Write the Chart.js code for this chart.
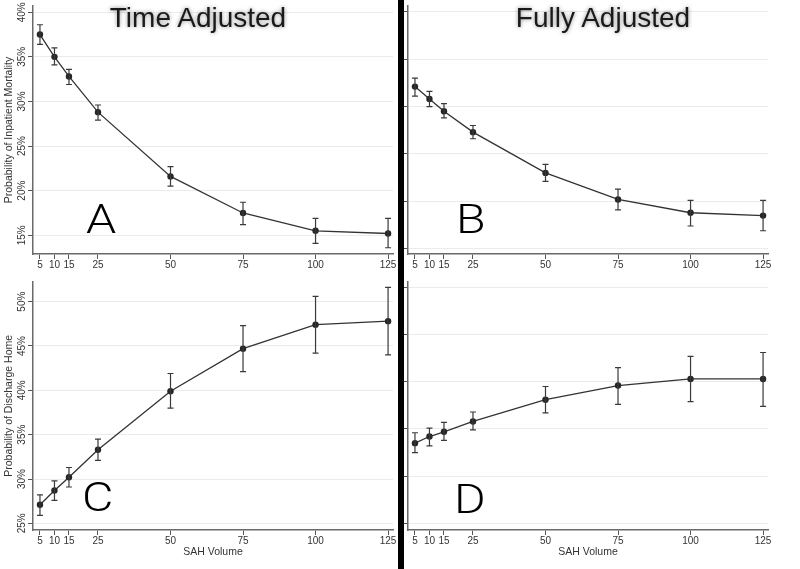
<!DOCTYPE html>
<html>
<head>
<meta charset="utf-8">
<script src="https://cdn.jsdelivr.net/npm/chart.js@4.4.0/dist/chart.umd.min.js"></script>
<style>
body { margin: 0; background: #fff; width: 800px; height: 569px; overflow: hidden; position: relative; font-family: "Liberation Sans", Arial, sans-serif; }
.panel { position: absolute; }
.title { position: absolute; font-size: 28px; line-height: 1; color: #1a1a1a; white-space: nowrap; transform: translateX(-50%); text-shadow: 0 0 4px rgba(0,0,0,.45); }
.letter { position: absolute; font-family: Roboto, sans-serif; font-weight: 300; font-size: 41px; line-height: 1; color: #000; transform: scaleX(1.18); transform-origin: left top; }
#divider { position: absolute; left: 398px; top: 0; width: 6px; height: 569px; background: #000; z-index: 5; }
</style>
</head>
<body>
<div class="panel" style="left:0;top:0;width:398px;height:276px"><canvas id="chartA"></canvas></div>
<div class="panel" style="left:404px;top:0;width:396px;height:276px"><canvas id="chartB"></canvas></div>
<div class="panel" style="left:0;top:276px;width:398px;height:293px"><canvas id="chartC"></canvas></div>
<div class="panel" style="left:404px;top:276px;width:396px;height:293px"><canvas id="chartD"></canvas></div>
<div id="divider"></div>
<div class="title" style="left:198px;top:4px">Time Adjusted</div>
<div class="title" style="left:603px;top:4px">Fully Adjusted</div>
<div class="letter" style="left:86px;top:199px">A</div>
<div class="letter" style="left:456px;top:199px">B</div>
<div class="letter" style="left:82px;top:477px">C</div>
<div class="letter" style="left:454px;top:479px">D</div>
<script>
// SAH volume categories
const volumes = [5, 10, 15, 25, 50, 75, 100, 125];
const xTicks = [5, 10, 15, 25, 50, 75, 100, 125];

// inpatient mortality, time adjusted (%)
const mortTime = [37.5, 35.0, 32.8, 28.8, 21.6, 17.5, 15.5, 15.2];
const mortTimeLo = [36.4, 34.1, 31.9, 27.9, 20.5, 16.2, 14.1, 13.6];
const mortTimeHi = [38.6, 36.0, 33.6, 29.6, 22.7, 18.7, 16.9, 16.9];

// inpatient mortality, fully adjusted (%)
const mortFull = [27.1, 25.8, 24.5, 22.3, 18.0, 15.2, 13.8, 13.5];
const mortFullLo = [26.1, 25.0, 23.8, 21.6, 17.1, 14.1, 12.4, 11.9];
const mortFullHi = [28.0, 26.6, 25.3, 23.0, 18.9, 16.3, 15.1, 15.1];

// discharge home, time adjusted (%)
const homeTime = [27.1, 28.7, 30.2, 33.3, 39.9, 44.7, 47.4, 47.8];
const homeTimeLo = [25.9, 27.6, 29.1, 32.1, 38.0, 42.1, 44.2, 44.0];
const homeTimeHi = [28.2, 29.8, 31.3, 34.5, 41.9, 47.3, 50.6, 51.6];

// discharge home, fully adjusted (%)
const homeFull = [33.5, 34.2, 34.7, 35.8, 38.1, 39.6, 40.3, 40.3];
const homeFullLo = [32.5, 33.2, 33.8, 34.9, 36.7, 37.6, 37.9, 37.4];
const homeFullHi = [34.6, 35.1, 35.7, 36.8, 39.5, 41.5, 42.7, 43.1];

// y tick values
const mortTicks = [15, 20, 25, 30, 35, 40];
const mortFullTicks = [10, 15, 20, 25, 30, 35];
const homeTicks = [25, 30, 35, 40, 45, 50];

const errorBars = {
  id: 'errorBars',
  afterDatasetsDraw(chart) {
    const ds = chart.data.datasets[0];
    const x = chart.scales.x, y = chart.scales.y;
    const ctx = chart.ctx;
    ctx.save();
    ctx.strokeStyle = '#3a3a3a';
    ctx.lineWidth = 1.2;
    ds.lo.forEach((lo, i) => {
      const px = x.getPixelForValue(volumes[i]);
      const p1 = y.getPixelForValue(lo);
      const p2 = y.getPixelForValue(ds.hi[i]);
      ctx.beginPath();
      ctx.moveTo(px, p1); ctx.lineTo(px, p2);
      ctx.moveTo(px - 3, p1); ctx.lineTo(px + 3, p1);
      ctx.moveTo(px - 3, p2); ctx.lineTo(px + 3, p2);
      ctx.stroke();
    });
    ctx.restore();
  }
};

function panel(id, o) {
  new Chart(document.getElementById(id), {
    type: 'line',
    data: {
      datasets: [{
        data: volumes.map((v, i) => ({ x: v, y: o.vals[i] })),
        lo: o.lo,
        hi: o.hi,
        borderColor: '#333',
        borderWidth: 1.3,
        tension: 0,
        pointRadius: 3.2,
        pointBackgroundColor: '#262626',
        pointBorderColor: '#262626',
        pointBorderWidth: 0
      }]
    },
    options: {
      responsive: true,
      maintainAspectRatio: false,
      animation: false,
      layout: { padding: o.pad },
      plugins: { legend: { display: false }, tooltip: { enabled: false } },
      scales: {
        x: {
          type: 'linear', min: 2.6, max: 126.7,
          afterBuildTicks: s => { s.ticks = xTicks.map(v => ({ value: v })); },
          afterFit: s => { s.height = o.xh; s.paddingLeft = 0; s.paddingRight = 0; },
          grid: { drawOnChartArea: false, tickLength: 5, tickColor: '#555' },
          border: { color: '#6a6a6a', width: 1.5 },
          ticks: { color: '#333', font: { size: 10 }, padding: 0, maxRotation: 0, autoSkip: false },
          title: { display: !!o.xTitle, text: o.xTitle, color: '#333', font: { size: 10.5 }, padding: { top: 0, bottom: 11 } }
        },
        y: {
          min: o.min, max: o.max,
          afterBuildTicks: s => { s.ticks = o.ticks.map(v => ({ value: v })); },
          afterFit: s => { s.width = o.yw; s.paddingTop = 0; s.paddingBottom = 0; },
          grid: { color: '#ebebeb', tickLength: 5, tickColor: '#555' },
          border: { color: '#6a6a6a', width: 1.5 },
          ticks: {
            display: o.labels, color: '#333', font: { size: 10 }, autoSkip: false,
            minRotation: 90, maxRotation: 90, crossAlign: 'center', padding: -4,
            callback: v => v + '%'
          },
          title: { display: !!o.yTitle, text: o.yTitle, color: '#333', font: { size: 10.5 }, padding: { top: 3, bottom: 0 } }
        }
      }
    },
    plugins: [errorBars]
  });
}

panel('chartA', { vals: mortTime, lo: mortTimeLo, hi: mortTimeHi, ticks: mortTicks, min: 12.9, max: 40.7,
  labels: true, yTitle: 'Probability of Inpatient Mortality', yw: 33, xh: 22, pad: { top: 6, right: 5, left: 0, bottom: 0 } });
panel('chartB', { vals: mortFull, lo: mortFullLo, hi: mortFullHi, ticks: mortFullTicks, min: 9.45, max: 35.6,
  labels: false, yw: 3, xh: 22, pad: { top: 6, right: 32, left: 0, bottom: 0 } });
panel('chartC', { vals: homeTime, lo: homeTimeLo, hi: homeTimeHi, ticks: homeTicks, min: 24.25, max: 52.25,
  labels: true, yTitle: 'Probability of Discharge Home', xTitle: 'SAH Volume', yw: 33, xh: 39, pad: { top: 5.7, right: 5, left: 0, bottom: 0 } });
panel('chartD', { vals: homeFull, lo: homeFullLo, hi: homeFullHi, ticks: homeTicks, min: 24.3, max: 50.6,
  labels: false, xTitle: 'SAH Volume', yw: 3, xh: 39, pad: { top: 5.7, right: 32, left: 0, bottom: 0 } });
</script>
</body>
</html>
